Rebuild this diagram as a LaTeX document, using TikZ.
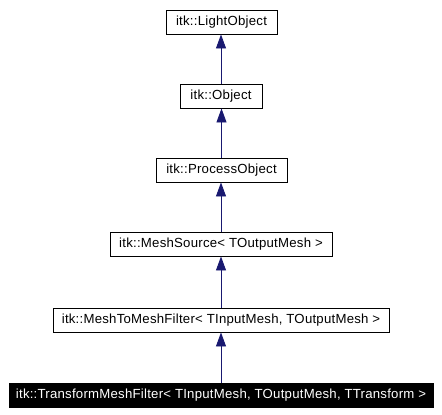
\documentclass[tikz,border=0pt]{standalone}
\usepackage{fontspec}
\setmainfont{Liberation Sans}[LetterSpace=1.8]
\usetikzlibrary{arrows.meta}
\definecolor{edgenavy}{HTML}{191970}
\begin{document}
\begin{tikzpicture}[x=1pt,y=-1pt,
  box/.style={draw=black, line width=0.9pt, fill=white, inner sep=0pt,
    minimum height=24pt, font=\fontsize{13.2}{15}\selectfont},
  dark/.style={box, fill=black, text=white},
  edge/.style={draw=edgenavy, line width=0.9pt,
    -{Triangle[length=14pt,width=10pt,fill=edgenavy]}}]
\useasboundingbox (0,0) rectangle (442,415);
\node[box, minimum width=111pt] (lo) at (221.5,22) {itk::LightObject};
\node[box, minimum width=82pt] (obj) at (221,96) {itk::Object};
\node[box, minimum width=131pt] (po) at (221.5,170) {itk::ProcessObject};
\node[box, minimum width=222pt] (ms) at (221,244) {itk::MeshSource< TOutputMesh >};
\node[box, minimum width=336pt] (mtm) at (221,320) {itk::MeshToMeshFilter< TInputMesh, TOutputMesh >};
\node[dark, minimum width=424pt] (tmf) at (221,395) {itk::TransformMeshFilter< TInputMesh, TOutputMesh, TTransform >};
\draw[edge] (obj.north) -- (obj.north |- lo.south);
\draw[edge] (po.north) -- (po.north |- obj.south);
\draw[edge] (ms.north) -- (ms.north |- po.south);
\draw[edge] (mtm.north) -- (mtm.north |- ms.south);
\draw[edge] (tmf.north) -- (tmf.north |- mtm.south);
\end{tikzpicture}
\end{document}
